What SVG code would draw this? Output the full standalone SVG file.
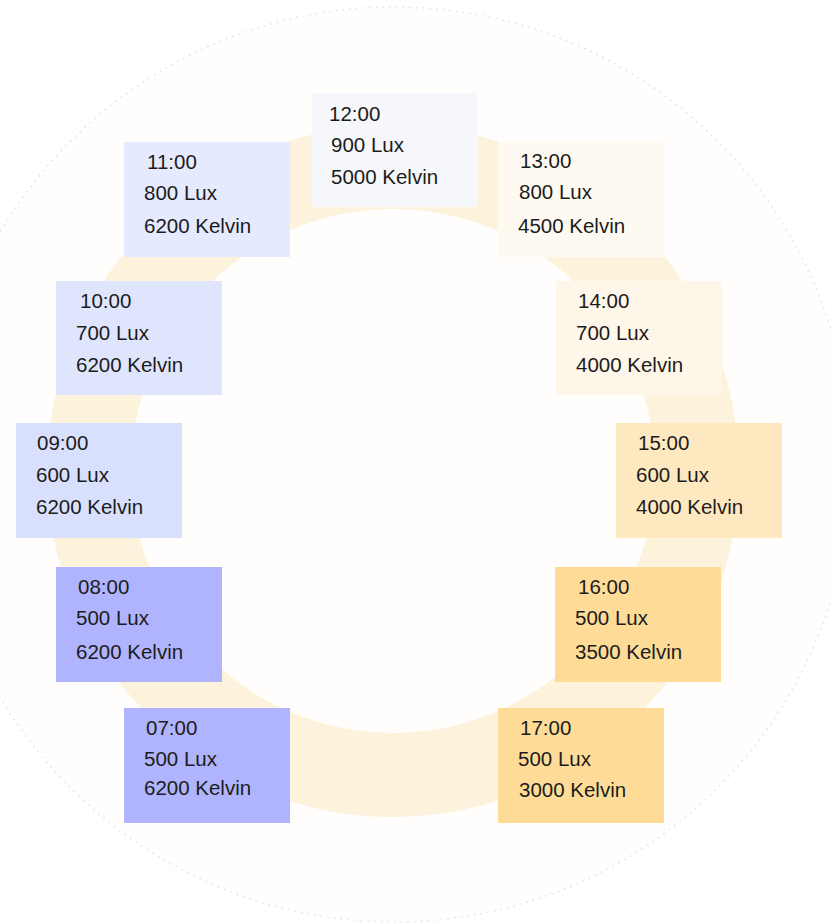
<svg xmlns="http://www.w3.org/2000/svg" width="831" height="923" viewBox="0 0 831 923">
<style>
.t{font-family:"Liberation Sans",Arial,sans-serif;font-size:20.5px;fill:#1c1c1c}
.box{stroke:none}
</style>
<rect x="0" y="0" width="831" height="923" fill="#ffffff"/>
<g id="background">
<circle cx="394" cy="464.5" r="457.5" fill="#fffefc" stroke="#e2e2e2" stroke-width="1.5" stroke-dasharray="1.6 5.1"/>
<circle cx="393" cy="471" r="304" fill="none" stroke="#fdf2dc" stroke-width="84"/>
</g>
<g id="connectors"></g>
<g id="n1200"><rect class="box" x="312" y="93" width="166" height="114" fill="#f6f7fa"/>
<text class="t" x="329" y="121">12:00</text><text class="t" x="331" y="152">900 Lux</text><text class="t" x="331" y="184">5000 Kelvin</text></g>
<g id="n1100"><rect class="box" x="124" y="142" width="166" height="115" fill="#e6eafe"/>
<text class="t" x="147" y="169">11:00</text><text class="t" x="144" y="200">800 Lux</text><text class="t" x="144" y="233">6200 Kelvin</text></g>
<g id="n1300"><rect class="box" x="498" y="142" width="166" height="115" fill="#fffaf1"/>
<text class="t" x="520" y="168">13:00</text><text class="t" x="519" y="199">800 Lux</text><text class="t" x="518" y="233">4500 Kelvin</text></g>
<g id="n1000"><rect class="box" x="56" y="281" width="166" height="114" fill="#e0e5fe"/>
<text class="t" x="80" y="308">10:00</text><text class="t" x="76" y="340">700 Lux</text><text class="t" x="76" y="372">6200 Kelvin</text></g>
<g id="n1400"><rect class="box" x="556" y="281" width="166" height="114" fill="#fef6e9"/>
<text class="t" x="578" y="308">14:00</text><text class="t" x="576" y="340">700 Lux</text><text class="t" x="576" y="372">4000 Kelvin</text></g>
<g id="n0900"><rect class="box" x="16" y="423" width="166" height="115" fill="#d9e0fe"/>
<text class="t" x="37" y="450">09:00</text><text class="t" x="36" y="482">600 Lux</text><text class="t" x="36" y="514">6200 Kelvin</text></g>
<g id="n1500"><rect class="box" x="616" y="423" width="166" height="115" fill="#fee8c0"/>
<text class="t" x="638" y="450">15:00</text><text class="t" x="636" y="482">600 Lux</text><text class="t" x="636" y="514">4000 Kelvin</text></g>
<g id="n0800"><rect class="box" x="56" y="567" width="166" height="115" fill="#b0b4fe"/>
<text class="t" x="78" y="594">08:00</text><text class="t" x="76" y="625">500 Lux</text><text class="t" x="76" y="659">6200 Kelvin</text></g>
<g id="n1600"><rect class="box" x="555" y="567" width="166" height="115" fill="#fedc98"/>
<text class="t" x="578" y="594">16:00</text><text class="t" x="575" y="625">500 Lux</text><text class="t" x="575" y="659">3500 Kelvin</text></g>
<g id="n0700"><rect class="box" x="124" y="708" width="166" height="115" fill="#b0b4fe"/>
<text class="t" x="146" y="735">07:00</text><text class="t" x="144" y="766">500 Lux</text><text class="t" x="144" y="795">6200 Kelvin</text></g>
<g id="n1700"><rect class="box" x="498" y="708" width="166" height="115" fill="#fedc98"/>
<text class="t" x="520" y="735">17:00</text><text class="t" x="518" y="766">500 Lux</text><text class="t" x="519" y="797">3000 Kelvin</text></g>
</svg>
